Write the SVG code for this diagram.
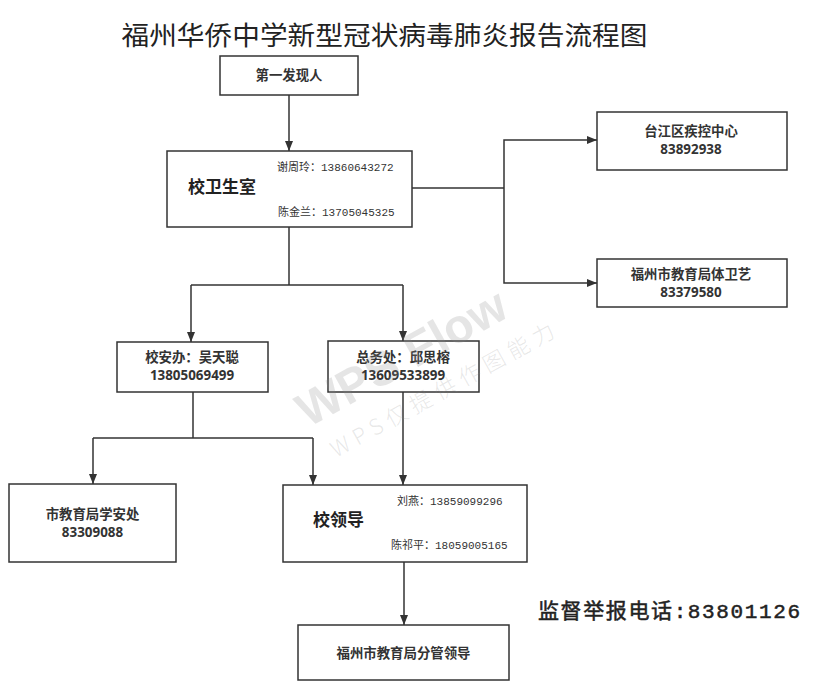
<svg xmlns="http://www.w3.org/2000/svg" width="816" height="695" viewBox="0 0 816 695">
<style>
.box{fill:#fff;stroke:#333;stroke-width:1.5}
.lbl{font-family:"Open Sans","Noto Sans CJK SC",sans-serif;font-weight:bold;font-size:13.4px;fill:#333;text-anchor:middle}
.big{font-family:"Noto Sans CJK SC",sans-serif;font-weight:bold;font-size:17px;fill:#222}
.sm{font-family:"Liberation Mono","Noto Sans CJK SC",monospace;font-size:11px;fill:#333}
.ln{fill:none;stroke:#333;stroke-width:1.5}
.wm1{font-family:"Liberation Sans",sans-serif;font-weight:bold;font-size:48px;fill:#888;fill-opacity:0.22}
.wm2{font-family:"Noto Sans CJK SC",sans-serif;font-weight:300;font-size:22px;fill:#888;fill-opacity:0.2}
</style>
<defs>
<marker id="arr" markerUnits="userSpaceOnUse" markerWidth="10" markerHeight="8" refX="10" refY="4" orient="auto">
<path d="M0,0 L10,4 L0,8 z" fill="#333"/>
</marker>
</defs>
<rect width="816" height="695" fill="#fff"/>
<g id="title">
<text x="384.5" y="45" font-family="Noto Sans CJK SC,sans-serif" font-size="26" fill="#222" text-anchor="middle" textLength="526" lengthAdjust="spacingAndGlyphs">福州华侨中学新型冠状病毒肺炎报告流程图</text>
</g>
<g id="connectors">
<path class="ln" d="M289,95 V151" marker-end="url(#arr)"/>
<path class="ln" d="M412,188 H504"/>
<path class="ln" d="M504,188 V140 H597" marker-end="url(#arr)"/>
<path class="ln" d="M504,188 V283 H597" marker-end="url(#arr)"/>
<path class="ln" d="M289,227 V285"/>
<path class="ln" d="M191,285 H403"/>
<path class="ln" d="M191,285 V342" marker-end="url(#arr)"/>
<path class="ln" d="M403,285 V341" marker-end="url(#arr)"/>
<path class="ln" d="M193,392 V438"/>
<path class="ln" d="M93,438 H313"/>
<path class="ln" d="M93,438 V484" marker-end="url(#arr)"/>
<path class="ln" d="M313,438 V485" marker-end="url(#arr)"/>
<path class="ln" d="M403,392 V485" marker-end="url(#arr)"/>
<path class="ln" d="M404,562 V625" marker-end="url(#arr)"/>
</g>
<g id="n1">
<rect class="box" x="220" y="56" width="138" height="39"/>
<text class="lbl" x="289" y="80">第一发现人</text>
</g>
<g id="n2">
<rect class="box" x="167" y="151" width="245" height="76"/>
<text class="big" x="188" y="193">校卫生室</text>
<text class="sm" x="277" y="171">谢周玲：13860643272</text>
<text class="sm" x="278" y="216">陈金兰：13705045325</text>
</g>
<g id="n3">
<rect class="box" x="597" y="112" width="190" height="58"/>
<text class="lbl" x="691" y="136">台江区疾控中心</text>
<text class="lbl" x="691" y="154">83892938</text>
</g>
<g id="n4">
<rect class="box" x="597" y="259" width="190" height="48"/>
<text class="lbl" x="691" y="279">福州市教育局体卫艺</text>
<text class="lbl" x="691" y="297">83379580</text>
</g>
<g id="n5">
<rect class="box" x="117" y="342" width="151" height="50"/>
<text class="lbl" x="192" y="362">校安办：吴天聪</text>
<text class="lbl" x="192" y="380">13805069499</text>
</g>
<g id="n6">
<rect class="box" x="328" y="341" width="151" height="51"/>
<text class="lbl" x="403" y="362">总务处：邱思榕</text>
<text class="lbl" x="403" y="380">13609533899</text>
</g>
<g id="n7">
<rect class="box" x="9" y="484" width="167" height="78"/>
<text class="lbl" x="92.5" y="519">市教育局学安处</text>
<text class="lbl" x="92.5" y="537">83309088</text>
</g>
<g id="n8">
<rect class="box" x="283" y="485" width="244" height="77"/>
<text class="big" x="313" y="526">校领导</text>
<text class="sm" x="397" y="505">刘燕：13859099296</text>
<text class="sm" x="391" y="549">陈祁平：18059005165</text>
</g>
<g id="n9">
<rect class="box" x="298" y="625" width="211" height="55"/>
<text class="lbl" x="403.5" y="658">福州市教育局分管领导</text>
</g>
<g id="hotline">
<text x="538" y="618" font-family="Liberation Mono,Noto Sans CJK SC,monospace" font-size="21" fill="#222" stroke="#222" stroke-width="0.5" textLength="262" lengthAdjust="spacing">监督举报电话:83801126</text>
</g>
<g id="watermark">
<text class="wm1" transform="translate(308,428) rotate(-29)">WPS Flow</text>
<text class="wm2" transform="translate(336,458) rotate(-29)" textLength="252" lengthAdjust="spacing">WPS仅提供作图能力</text>
</g>
</svg>
